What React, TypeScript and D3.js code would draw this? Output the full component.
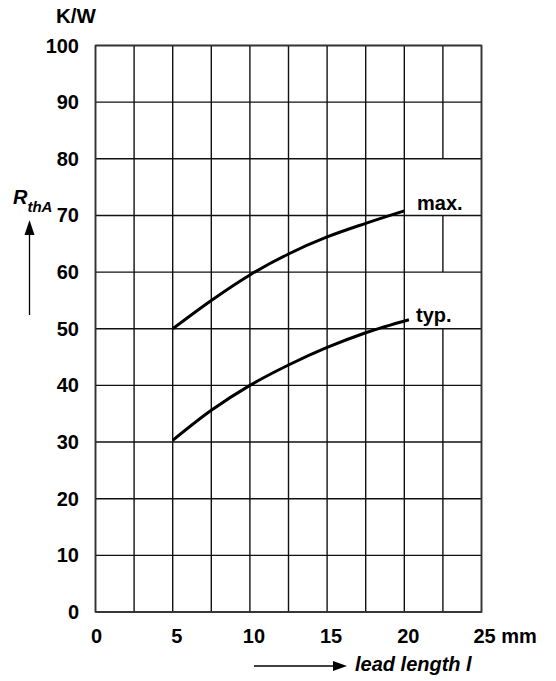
import React from "react";
import * as d3 from "d3";

const xTicks = [0, 5, 10, 15, 20, 25];
const yTicks = [0, 10, 20, 30, 40, 50, 60, 70, 80, 90, 100];
const xGrid = [0, 2.5, 5, 7.5, 10, 12.5, 15, 17.5, 20, 22.5, 25];
const gridGaps = [
  { x: 22.5, y0: 70, y1: 80 },
  { x: 22.5, y0: 50, y1: 60 },
];
const maxLength = [5, 7.5, 10, 12.5, 15, 17.5, 20];
const maxValues = [50, 55, 59.5, 63.2, 66.2, 68.6, 70.8];
const typLength = [5, 7.5, 10, 12.5, 15, 17.5, 20.3];
const typValues = [30.3, 35.6, 40, 43.6, 46.7, 49.3, 51.6];
const curveLabels = ["max.", "typ."];

const W = 556;
const H = 681;
const FONT = "'Liberation Sans', Arial, Helvetica, sans-serif";

export default function App() {
  const x = d3.scaleLinear().domain([0, 25]).range([95.5, 481.5]);
  const y = d3.scaleLinear().domain([0, 100]).range([612, 45.5]);
  const line = d3
    .line<[number, number]>()
    .x((d) => x(d[0]))
    .y((d) => y(d[1]))
    .curve(d3.curveMonotoneX);

  const maxPts: [number, number][] = maxLength.map((l, i) => [l, maxValues[i]]);
  const typPts: [number, number][] = typLength.map((l, i) => [l, typValues[i]]);

  // vertical grid segments with gaps
  const vSegs: { xv: number; a: number; b: number }[] = [];
  xGrid.forEach((xv) => {
    const gaps = gridGaps.filter((g) => g.x === xv).sort((p, q) => p.y0 - q.y0);
    let start = 0;
    gaps.forEach((g) => {
      vSegs.push({ xv, a: start, b: g.y0 });
      start = g.y1;
    });
    vSegs.push({ xv, a: start, b: 100 });
  });

  return (
    <svg
      width={W}
      height={H}
      style={{ position: "absolute", left: 0, top: 0, background: "#fff" }}
      fontFamily={FONT}
    >
      <rect x={0} y={0} width={W} height={H} fill="#fff" />
      {yTicks.map((t) => (
        <line
          key={"h" + t}
          x1={x(0)}
          x2={x(25)}
          y1={y(t)}
          y2={y(t)}
          stroke="#111"
          strokeWidth={1.4}
        />
      ))}
      {vSegs.map((s, i) => (
        <line
          key={"v" + i}
          x1={x(s.xv)}
          x2={x(s.xv)}
          y1={y(s.a)}
          y2={y(s.b)}
          stroke="#111"
          strokeWidth={1.4}
        />
      ))}
      <rect
        x={x(0)}
        y={y(100)}
        width={x(25) - x(0)}
        height={y(0) - y(100)}
        fill="none"
        stroke="#333"
        strokeWidth={1.6}
      />
      <path d={line(maxPts) || ""} fill="none" stroke="#000" strokeWidth={3} />
      <path d={line(typPts) || ""} fill="none" stroke="#000" strokeWidth={3} />
      <text x={417} y={210} fontSize={20} fontWeight="bold" fill="#000">
        {curveLabels[0]}
      </text>
      <text x={416} y={322} fontSize={20} fontWeight="bold" fill="#000">
        {curveLabels[1]}
      </text>

      {yTicks.map((t) => (
        <text
          key={"yl" + t}
          x={79}
          y={y(t) + 7}
          textAnchor="end"
          fontSize={20}
          fontWeight="bold"
          fill="#000"
        >
          {t}
        </text>
      ))}
      {xTicks.map((t) => (
        <text
          key={"xl" + t}
          x={x(t) + (t === 25 ? -8 : t === 0 ? 1 : 4)}
          y={643}
          textAnchor={t === 25 ? "start" : "middle"}
          fontSize={20}
          fontWeight="bold"
          fill="#000"
        >
          {t === 25 ? "25 mm" : t}
        </text>
      ))}
      <text x={56} y={22.5} fontSize={20.5} fontWeight="bold" fill="#000">
        K/W
      </text>
      <text x={13} y={204} fontSize={20} fontWeight="bold" fontStyle="italic" fill="#000">
        R
        <tspan dy={7.5} fontSize={15}>
          thA
        </tspan>
      </text>
      <line x1={29.5} x2={29.5} y1={230} y2={315} stroke="#000" strokeWidth={1.3} />
      <path d="M29.5,220 L24.5,235 L34.5,235 Z" fill="#000" />

      <line x1={254} x2={336} y1={666} y2={666} stroke="#000" strokeWidth={1.3} />
      <path d="M347,666 L333,661 L333,671 Z" fill="#000" />
      <text x={355} y={671} fontSize={20} fontWeight="bold" fontStyle="italic" fill="#000">
        lead length l
      </text>
    </svg>
  );
}
